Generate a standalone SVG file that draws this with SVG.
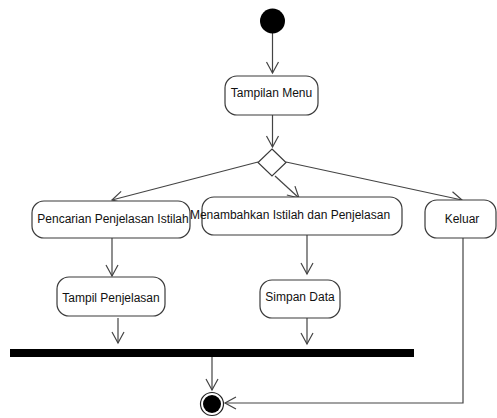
<svg xmlns="http://www.w3.org/2000/svg" width="497" height="418" viewBox="0 0 497 418">
<defs>
<style>
.node rect{fill:#fff;stroke:#3a3a3a;stroke-width:1.2}
.node text{font-family:"Liberation Sans",Arial,sans-serif;font-size:12px;fill:#111;text-anchor:middle}
.edge{fill:none;stroke:#444;stroke-width:1.2}
</style>
<marker id="arr" markerUnits="userSpaceOnUse" markerWidth="20" markerHeight="20" refX="12" refY="7" orient="auto">
<path d="M1,1 L12,7 L1,13" fill="none" stroke="#444" stroke-width="1.2"/>
</marker>
</defs>
<rect width="497" height="418" fill="#fff"/>
<g id="connectors">
<line class="edge" x1="272.5" y1="33" x2="272.5" y2="73" marker-end="url(#arr)"/>
<line class="edge" x1="272.5" y1="115" x2="272.5" y2="147" marker-end="url(#arr)"/>
<line class="edge" x1="258" y1="162" x2="112" y2="200" marker-end="url(#arr)"/>
<line class="edge" x1="275" y1="176" x2="299" y2="198" marker-end="url(#arr)"/>
<line class="edge" x1="286" y1="162" x2="462" y2="200" marker-end="url(#arr)"/>
<line class="edge" x1="112" y1="238" x2="112" y2="276" marker-end="url(#arr)"/>
<line class="edge" x1="307" y1="235" x2="307" y2="274" marker-end="url(#arr)"/>
<line class="edge" x1="118" y1="318" x2="118" y2="343" marker-end="url(#arr)"/>
<line class="edge" x1="307" y1="312" x2="307" y2="344" marker-end="url(#arr)"/>
<line class="edge" x1="212" y1="357" x2="212" y2="390" marker-end="url(#arr)"/>
<polyline class="edge" points="463,238 463,403 225,403" marker-end="url(#arr)"/>
</g>
<g id="start"><circle cx="272.5" cy="21" r="12.5" fill="#000"/></g>
<g id="tampilanMenu" class="node"><rect x="225" y="76" width="93" height="39" rx="12"/><text x="271.5" y="96.5">Tampilan Menu</text></g>
<g id="decision"><polygon points="272,149 286,162.5 272,176 258,162.5" fill="#fff" stroke="#3a3a3a" stroke-width="1.2"/></g>
<g id="pencarian" class="node"><rect x="32" y="201" width="158" height="37" rx="12"/><text x="113" y="223">Pencarian Penjelasan Istilah</text></g>
<g id="menambahkan" class="node"><rect x="202" y="197" width="200" height="38" rx="12"/><text x="290" y="219">Menambahkan Istilah dan Penjelasan</text></g>
<g id="keluar" class="node"><rect x="425" y="200" width="71" height="38" rx="12"/><text x="462" y="223">Keluar</text></g>
<g id="tampilPenjelasan" class="node"><rect x="57" y="277" width="108" height="39" rx="12"/><text x="111" y="302">Tampil Penjelasan</text></g>
<g id="simpanData" class="node"><rect x="260" y="280" width="80" height="38" rx="12"/><text x="300" y="301">Simpan Data</text></g>
<g id="join"><rect x="10" y="349" width="404" height="8" fill="#000"/></g>
<g id="end"><circle cx="212" cy="404" r="11.5" fill="#fff" stroke="#222" stroke-width="1.2"/><circle cx="212" cy="404" r="9" fill="#000"/></g>
</svg>
